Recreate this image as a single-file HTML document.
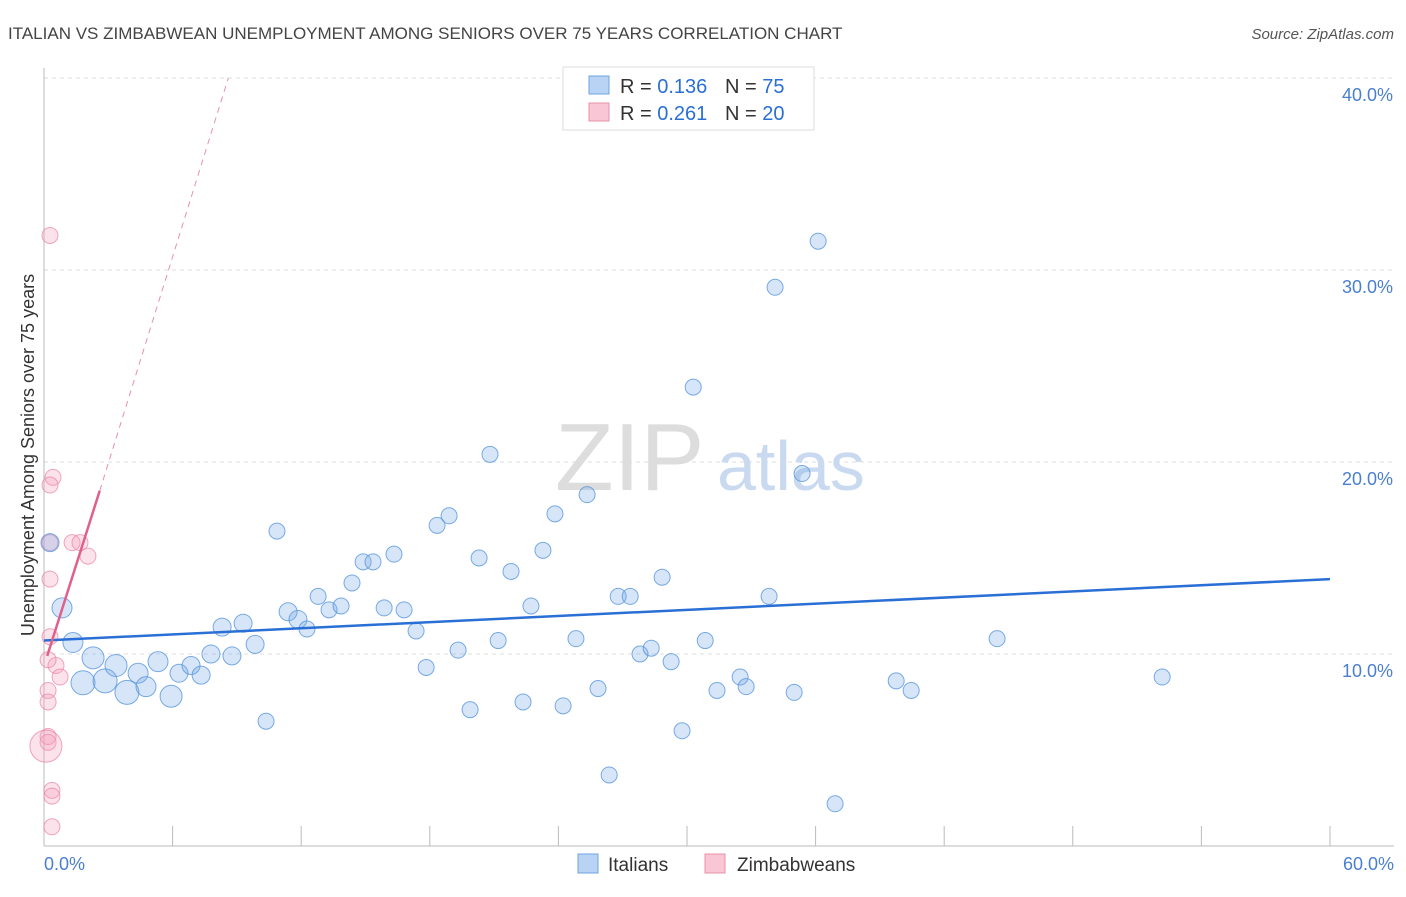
<!DOCTYPE html>
<html><head><meta charset="utf-8"><style>
body{margin:0;background:#fff;font-family:"Liberation Sans",sans-serif}
svg text{font-family:"Liberation Sans",sans-serif}
</style></head><body>
<svg id="chart" width="1406" height="892">
<text x="8" y="39" font-size="17" fill="#444">ITALIAN VS ZIMBABWEAN UNEMPLOYMENT AMONG SENIORS OVER 75 YEARS CORRELATION CHART</text>
<text x="1394" y="39" font-size="15" fill="#555" font-style="italic" text-anchor="end">Source: ZipAtlas.com</text>
<g id="grid"></g>
<text x="555" y="490" font-size="96" fill="#ddd" font-family="Liberation Serif">ZIP</text>
<text x="717" y="490" font-size="70" fill="#c9daf0">atlas</text>
<line x1="44" y1="68" x2="44" y2="846" stroke="#bbb"/>
<line x1="44" y1="846" x2="1394" y2="846" stroke="#bbb"/>
<g id="xticks"></g>
<text x="44" y="870" font-size="18" fill="#4a7fd0">0.0%</text>
<text x="1394" y="870" font-size="18" fill="#4a7fd0" text-anchor="end">60.0%</text>
<text transform="translate(34,455) rotate(-90)" font-size="18" fill="#333" text-anchor="middle">Unemployment Among Seniors over 75 years</text>
<g id="pts"></g>
<g id="trends"></g>
<g>
<rect x="563" y="67" width="251" height="63" fill="#fff" stroke="#ddd"/>
<rect x="589" y="76" width="20" height="18" fill="#b8d3f3" stroke="#6fa3e0"/>
<rect x="589" y="103" width="20" height="18" fill="#f8c6d4" stroke="#e890aa"/>
<text x="620" y="93" font-size="20" fill="#333">R = <tspan fill="#2a6fd6">0.136</tspan></text>
<text x="725" y="93" font-size="20" fill="#333">N = <tspan fill="#2a6fd6">75</tspan></text>
<text x="620" y="120" font-size="20" fill="#333">R = <tspan fill="#2a6fd6">0.261</tspan></text>
<text x="725" y="120" font-size="20" fill="#333">N = <tspan fill="#2a6fd6">20</tspan></text>
</g>
<g>
<rect x="578" y="854" width="20" height="19" fill="#b8d3f3" stroke="#6fa3e0"/>
<text x="608" y="871" font-size="19" fill="#333">Italians</text>
<rect x="705" y="854" width="20" height="19" fill="#f8c6d4" stroke="#e890aa"/>
<text x="737" y="871" font-size="19" fill="#333">Zimbabweans</text>
</g>
</svg>
<script>
const yTicks=[10,20,30,40];
const yTickLabels=["10.0%","20.0%","30.0%","40.0%"];
const xTicks=[0,6,12,18,24,30,36,42,48,54,60];
const italiansX=[0.28,0.84,1.35,2.29,1.82,2.85,3.36,3.87,4.39,4.76,5.32,5.93,6.3,6.86,7.33,7.79,8.31,8.77,9.29,9.85,10.36,10.87,11.39,11.85,12.27,12.79,13.3,13.86,14.37,14.89,15.35,15.87,16.33,16.8,17.36,17.83,18.34,18.9,19.32,19.88,20.3,20.81,21.19,21.79,22.35,22.72,23.28,23.84,24.22,24.82,25.34,25.85,26.37,26.79,27.35,27.81,28.33,28.84,29.26,29.77,30.29,30.85,31.4,32.48,32.76,33.83,34.11,35.0,35.37,36.12,36.91,39.76,40.46,44.47,52.17];
const italiansY=[15.8,12.4,10.6,9.8,8.5,8.6,9.4,8.0,9.0,8.3,9.6,7.8,9.0,9.4,8.9,10.0,11.4,9.9,11.6,10.5,6.5,16.4,12.2,11.8,11.3,13.0,12.3,12.5,13.7,14.8,14.8,12.4,15.2,12.3,11.2,9.3,16.7,17.2,10.2,7.1,15.0,20.4,10.7,14.3,7.5,12.5,15.4,17.3,7.3,10.8,18.3,8.2,3.7,13.0,13.0,10.0,10.3,14.0,9.6,6.0,23.9,10.7,8.1,8.8,8.3,13.0,29.1,8.0,19.4,31.5,2.2,8.6,8.1,10.8,8.8];
const italiansR=[9,10,10,11,12,12,11,12,10,10,10,11,9,9,9,9,9,9,9,9,8,8,9,9,8,8,8,8,8,8,8,8,8,8,8,8,8,8,8,8,8,8,8,8,8,8,8,8,8,8,8,8,8,8,8,8,8,8,8,8,8,8,8,8,8,8,8,8,8,8,8,8,8,8,8];
const zimX=[0.28,0.42,0.28,0.28,1.31,1.68,2.05,0.28,0.28,0.56,0.19,0.75,0.19,0.19,0.19,0.19,0.09,0.37,0.37,0.37];
const zimY=[31.8,19.2,18.8,15.8,15.8,15.8,15.1,13.9,10.9,9.4,9.7,8.8,8.1,7.5,5.7,5.4,5.2,2.9,2.6,1.0];
const zimR=[8,8,8,8,8,8,8,8,8,8,8,8,8,8,8,8,16,8,8,8];
const italiansTrend=[0,10.7,60,13.9];
const zimTrend=[0.15,9.9,2.6,18.5,8.6,40];
const X=v=>44+v*21.433, Y=v=>846-v*19.2;
const NS="http://www.w3.org/2000/svg";
function mk(t,a,p){const e=document.createElementNS(NS,t);for(const k in a)e.setAttribute(k,a[k]);p.appendChild(e);return e;}
const grid=document.getElementById('grid');
yTicks.forEach((t,i)=>{
 const l=mk('line',{x1:44,x2:1394,y1:Y(t),y2:Y(t),stroke:'#ddd','stroke-dasharray':'4,4'},grid);
 
 
 const tx=mk('text',{x:1393,y:Y(t)+23,'font-size':18,fill:'#4a7fd0','text-anchor':'end'},grid);
 tx.textContent=yTickLabels[i];
 
 
});
const xt=document.getElementById('xticks');
xTicks.forEach(t=>{
 const l=mk('line',{x1:X(t),x2:X(t),y1:826,y2:846,stroke:'#bbb'},xt);
 
 
});
const pts=document.getElementById('pts');
zimX.forEach((v,i)=>{
 const c=mk('circle',{cx:X(v),cy:Y(zimY[i]),r:zimR[i],fill:'rgba(244,160,188,0.3)',stroke:'rgba(232,130,165,0.7)'},pts);
 
 
});
italiansX.forEach((v,i)=>{
 const c=mk('circle',{cx:X(v),cy:Y(italiansY[i]),r:italiansR[i],fill:'rgba(120,170,230,0.3)',stroke:'rgba(80,145,220,0.75)'},pts);
 
 
});
const tr=document.getElementById('trends');
const bl=mk('line',{x1:X(italiansTrend[0]),y1:Y(italiansTrend[1]),x2:X(italiansTrend[2]),y2:Y(italiansTrend[3]),stroke:'#2a6fd6','stroke-width':2.5},tr);


const pl=mk('line',{x1:X(zimTrend[0]),y1:Y(zimTrend[1]),x2:X(zimTrend[2]),y2:Y(zimTrend[3]),stroke:'#e0608a','stroke-width':2.5},tr);


const pd=mk('line',{x1:X(zimTrend[2]),y1:Y(zimTrend[3]),x2:X(zimTrend[4]),y2:Y(zimTrend[5]),stroke:'#e890aa','stroke-width':1,'stroke-dasharray':'6,5'},tr);


</script>
</body></html>
